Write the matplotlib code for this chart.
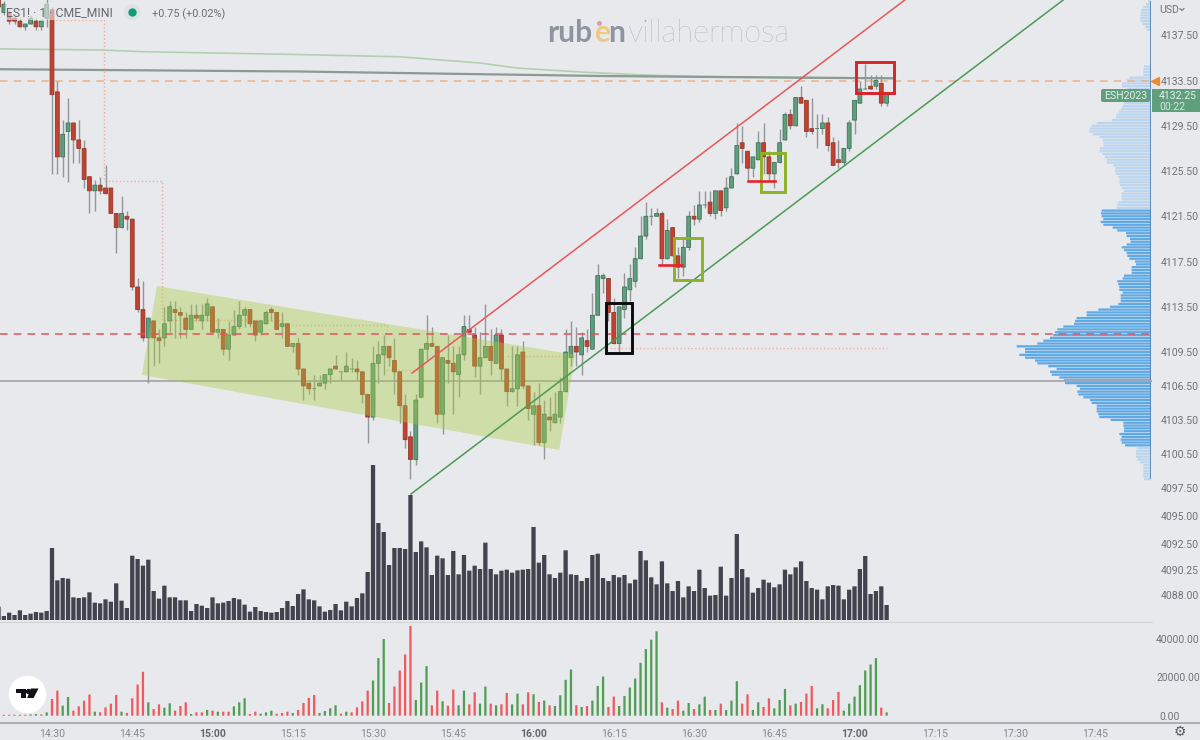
import matplotlib
matplotlib.use('Agg')
import matplotlib.pyplot as plt
from matplotlib.lines import Line2D
from matplotlib.patches import Polygon, Rectangle, FancyBboxPatch
from matplotlib.transforms import ScaledTranslation

plt.rcParams['font.family'] = ['Roboto', 'DejaVu Sans']

# one candle per minute, bar 0 is 14:30, first bar is -10
first_bar = -10
candle_open = [
    4140.75, 4139.5, 4139.5, 4139, 4138.75, 4138.25, 4138.5, 4138.75, 4138.25, 4139,
    4139.75, 4132.5, 4126.75, 4129, 4129.75, 4128.25, 4127.5, 4125, 4123.75, 4124.25,
    4124, 4124, 4121.75, 4120.5, 4121.5, 4121.25, 4115.25, 4113.25, 4110.75, 4112.25,
    4110.75, 4110.75, 4112.25, 4113.25, 4113, 4112.5, 4111.5, 4112.75, 4112.25, 4112.75,
    4113.5, 4111.25, 4111.5, 4109.75, 4111, 4111.75, 4112.75, 4113.25, 4112.25, 4111.25,
    4112, 4113.25, 4113, 4111.75, 4112, 4110, 4110.25, 4108, 4106.75, 4106.25,
    4106.5, 4106.75, 4107.5, 4108.25, 4107.75, 4107.75, 4108, 4108, 4107.75, 4105.75,
    4103.75, 4108.5, 4109.25, 4110, 4108.75, 4107.75, 4104.75, 4102, 4100, 4105.5,
    4109.75, 4110.25, 4110, 4104, 4108.75, 4108.5, 4107.5, 4109.25, 4111.5, 4111,
    4108.25, 4109, 4110, 4108.5, 4111, 4108, 4106, 4106.25, 4109.5, 4106.5,
    4104, 4104.75, 4101.5, 4103.75, 4103.25, 4103.75, 4106, 4109, 4110, 4109.25,
    4110.5, 4109.75, 4112.75, 4116, 4116, 4113, 4110.25, 4113.25, 4115, 4115.75,
    4117.75, 4119.75, 4121.5, 4121.5, 4121.75, 4117.75, 4120.5, 4118, 4117, 4118.75,
    4121.5, 4121.25, 4122.5, 4122.75, 4121.75, 4123.75, 4122.25, 4124, 4125.25, 4128,
    4127.25, 4125.75, 4126.5, 4128, 4126.75, 4125.25, 4126.25, 4128.25, 4130.5, 4129.5,
    4132, 4131.75, 4129.25, 4129.25, 4129.25, 4129.75, 4128, 4126.5, 4126.25, 4127.5,
    4130, 4131.5, 4132.75, 4133, 4133, 4133.25, 4131.5]
candle_high = [
    4141, 4140.5, 4139.75, 4139.25, 4139, 4138.5, 4139.25, 4139, 4138.75, 4140.75,
    4140, 4133.5, 4130, 4132, 4129.75, 4130, 4128.25, 4125, 4124.75, 4125,
    4126, 4124, 4121.75, 4123.25, 4122, 4121.25, 4116, 4115.75, 4112.5, 4112.25,
    4111.5, 4113.5, 4114, 4114, 4113.5, 4113, 4113.75, 4113.75, 4113.75, 4114.25,
    4113.5, 4112.5, 4111.5, 4112.25, 4113.25, 4114, 4113.5, 4113.25, 4112.25, 4112.25,
    4113.25, 4113.5, 4113, 4113, 4112, 4110.25, 4110.75, 4108, 4106.75, 4107.5,
    4107.5, 4107.5, 4108, 4109.25, 4107.75, 4109.5, 4109, 4108.75, 4107.75, 4105.75,
    4110, 4110.5, 4111, 4110, 4110.75, 4107.75, 4105.75, 4102.5, 4105.75, 4109.75,
    4112.75, 4111.75, 4110, 4109, 4111, 4110, 4110, 4112.75, 4112.75, 4111.75,
    4111.25, 4113.75, 4111.5, 4111.75, 4111.5, 4108, 4110, 4110, 4110.5, 4106.5,
    4106, 4106.75, 4105.25, 4105.5, 4106, 4107.25, 4111.5, 4112.25, 4111.75, 4111.25,
    4111.5, 4114.75, 4117.25, 4116.5, 4116, 4114.25, 4113.5, 4116.5, 4117.25, 4118.75,
    4121.5, 4122.75, 4122.25, 4122.25, 4122, 4121.25, 4120.5, 4118.75, 4119.5, 4122,
    4122.5, 4123.75, 4123.75, 4123.75, 4123.75, 4123.75, 4125, 4125.75, 4129.75, 4129.5,
    4127.25, 4126.75, 4129, 4129.75, 4127.25, 4126.25, 4129.25, 4130.75, 4131, 4132,
    4133, 4131.75, 4132, 4130.5, 4130.5, 4130.25, 4128.5, 4128.25, 4127.5, 4130,
    4131.75, 4133.5, 4135, 4134, 4134, 4134, 4132.25]
candle_low = [
    4139.75, 4139.25, 4138.5, 4138.5, 4138.25, 4138, 4138.5, 4138, 4138, 4138.25,
    4125.25, 4125.25, 4125, 4124.5, 4126.25, 4126.25, 4124, 4121.75, 4122, 4123.5,
    4123.5, 4121.75, 4118.25, 4120.5, 4120.25, 4115, 4113, 4110.5, 4106.75, 4108.25,
    4108.5, 4110, 4111.25, 4110.75, 4110.75, 4110.75, 4111.5, 4112.25, 4111.5, 4112.25,
    4111.25, 4110.75, 4109.25, 4108.75, 4111, 4111.5, 4111.75, 4111.75, 4110.5, 4111,
    4112, 4112.25, 4111.5, 4110.75, 4110, 4109.5, 4107.5, 4105.25, 4105.75, 4105.25,
    4106.5, 4106.25, 4106.75, 4108, 4107, 4107.75, 4107.75, 4107, 4105, 4101.5,
    4103.5, 4106.75, 4107.5, 4108.25, 4105.75, 4103.25, 4101, 4098.25, 4099.5, 4105.5,
    4108.75, 4110, 4103.25, 4102.25, 4106.75, 4104, 4105.5, 4108.75, 4111.25, 4107.25,
    4105.75, 4109, 4107.5, 4108.5, 4107, 4104.75, 4106, 4104.75, 4106.25, 4103.5,
    4101.25, 4101.25, 4100, 4102.5, 4103.25, 4103.25, 4106, 4108.25, 4108.25, 4107.5,
    4109.5, 4109.75, 4112.75, 4114.75, 4112.25, 4110.25, 4109.5, 4112.5, 4114, 4115.25,
    4117.75, 4119.5, 4120.75, 4121.5, 4117.25, 4117.75, 4118, 4116, 4116.25, 4118.5,
    4120.75, 4121, 4122.25, 4121.5, 4121.25, 4121.5, 4122, 4124, 4125.25, 4126.25,
    4124.75, 4125, 4126.5, 4125.25, 4124.75, 4124, 4126.25, 4128.25, 4129.25, 4129.5,
    4131.5, 4128.5, 4128.75, 4127.5, 4128.75, 4127.25, 4126, 4125.75, 4126, 4127.25,
    4128.75, 4131.5, 4132.75, 4132.75, 4132.75, 4131.25, 4131.25]
candle_close = [
    4140, 4140.25, 4138.75, 4138.75, 4138.25, 4138.5, 4139, 4138.25, 4138.75, 4140.25,
    4132.25, 4126.75, 4128.75, 4129.75, 4128.25, 4127.5, 4124.75, 4123.75, 4124.25, 4123.75,
    4123.5, 4121.75, 4120.5, 4121.75, 4121.25, 4115.25, 4113.25, 4110.75, 4112.5, 4110.75,
    4110.5, 4112, 4113.5, 4113, 4112.75, 4111.5, 4112.75, 4112.5, 4112.75, 4113.75,
    4111.25, 4111.5, 4109.75, 4111, 4111.75, 4112.75, 4113.25, 4112, 4111, 4112.25,
    4113, 4113, 4111.5, 4112, 4110, 4110.25, 4108, 4106.5, 4106.25, 4106.25,
    4106.75, 4107.5, 4108, 4108, 4107.75, 4108.25, 4108, 4107.75, 4105.75, 4103.75,
    4108.5, 4109.25, 4110, 4109, 4107.75, 4104.75, 4101.75, 4100, 4105.25, 4109.75,
    4110.25, 4110, 4104, 4109, 4108.5, 4107.75, 4109.25, 4111.75, 4111.25, 4108.25,
    4109, 4110, 4108.75, 4111, 4108, 4106, 4106.25, 4109.25, 4106.5, 4104.5,
    4104.75, 4101.5, 4104, 4103.5, 4104, 4106, 4109.5, 4110, 4109.5, 4110.75,
    4110, 4112.75, 4116.25, 4116.25, 4113, 4110.25, 4113.5, 4115.25, 4116, 4117.75,
    4119.75, 4121.5, 4121.5, 4121.75, 4117.75, 4120.25, 4118, 4117, 4118.75, 4121.5,
    4121.25, 4122.5, 4122.5, 4121.75, 4123.75, 4122, 4124, 4125, 4127.75, 4127.5,
    4125.75, 4126.75, 4128, 4126.75, 4125.25, 4126.25, 4128, 4130.5, 4129.5, 4132,
    4131.5, 4129, 4129, 4129.25, 4129.75, 4127.75, 4126, 4126.25, 4127.5, 4129.75,
    4131.75, 4132.75, 4132.75, 4132.75, 4133.5, 4131.5, 4132.25]

# volume bars (scale is not shown on the chart)
volume = [
    40, 12, 22, 15, 29, 15, 19, 24, 22, 27,
    216, 119, 126, 124, 68, 66, 68, 83, 52, 50,
    62, 55, 110, 58, 36, 193, 183, 163, 181, 87,
    64, 103, 68, 68, 59, 59, 27, 48, 43, 36,
    68, 50, 52, 57, 66, 62, 46, 25, 39, 27,
    24, 22, 24, 36, 57, 42, 78, 92, 62, 59,
    41, 25, 30, 48, 29, 55, 41, 66, 80, 144,
    465, 291, 264, 165, 216, 216, 213, 375, 204, 236,
    218, 135, 193, 185, 135, 207, 137, 195, 148, 163,
    153, 232, 153, 137, 148, 151, 142, 149, 151, 153,
    279, 172, 195, 137, 126, 142, 209, 137, 135, 117,
    126, 195, 199, 126, 117, 135, 128, 135, 110, 121,
    207, 179, 128, 107, 176, 110, 87, 117, 68, 101,
    87, 151, 96, 73, 75, 160, 73, 126, 258, 153,
    128, 82, 96, 121, 112, 98, 107, 151, 137, 158,
    176, 117, 96, 91, 62, 101, 105, 103, 62, 91,
    101, 153, 192, 78, 87, 101, 45]

# lower pane, negative is red; read in units of 174 contracts
delta_unit = 174
delta = [
    -3, -3, -3, -3, -3, -3, 4, 5, -4, 10,
    -50, -75, 30, 56, -15, -28, -45, -63, 12, -10,
    -25, -36, -62, 12, -8, -52, -93, -131, 40, -20,
    -34, 24, 37, -15, -29, -40, 5, -10, -10, 17,
    -15, 12, -12, -12, 28, 40, 52, -5, -12, 6,
    10, 15, -6, -8, -12, 8, -17, -38, -53, -62,
    8, 14, 22, 31, -6, 12, -10, -25, -43, -75,
    105, 172, 229, -38, -87, -135, -183, -268, 47, 99,
    148, -31, -75, 43, -30, -78, 31, 75, -34, -70,
    36, 87, -36, 31, -34, -68, 34, 66, -34, -70,
    64, -41, 45, -31, 29, 61, 107, 138, -31, 26,
    -29, 45, 89, 117, -26, -57, 29, 59, 84, 111,
    158, 199, 227, 252, -40, 24, -20, -45, 15, 38,
    -20, 34, 57, -17, 17, -36, 17, 45, 103, -36,
    -64, 17, 40, -26, -52, 22, 47, 80, -31, 36,
    -41, -66, -89, 22, 34, -22, -47, -71, 15, 36,
    57, 91, 135, 153, 172, -24, 10]

# volume profile, one row per 0.25 from the top price downwards
profile_top = 4140.5
profile = [
    8, 15, 23, 28, 30, 31, 33, 31, 25, 17, 13,
    0, 0, 0, 0, 0, 0, 0, 0, 0, 0, 0, 0,
    21, 23, 23, 23, 65, 73, 87, 87, 73, 70, 75, 80, 80, 82, 85, 90, 95, 104, 105, 118,
    163, 178, 183, 185, 175, 155, 145, 143, 143, 153, 155, 145, 138, 133, 133, 113,
    108, 108, 105, 98, 95, 95, 93, 88, 81, 88, 88, 88, 98, 101, 103,
    148, 150, 148, 143, 151, 143, 115, 101, 75, 73, 63, 61, 73, 88, 81, 73, 71, 65,
    48, 45, 58, 58, 58, 81, 85, 101, 98, 95, 95, 85, 91, 91, 91, 98, 123, 158, 193,
    193, 223, 228, 231, 263, 281, 288, 293, 303, 323, 341, 403, 378, 378, 395, 378,
    348, 341, 308, 283, 303, 298, 275, 261, 258, 223, 213, 221, 218, 203, 183, 178,
    163, 163, 163, 158, 155, 121, 83, 83, 81, 81, 95, 88, 91, 88, 78,
    43, 45, 45, 45, 41, 33, 23, 23, 23, 23, 23, 21]
value_area = (74, 157)

price_ticks = [4137.5, 4133.5, 4129.5, 4125.5, 4121.5, 4117.5, 4113.5, 4109.5, 4106.5,
               4103.5, 4100.5, 4097.5, 4095, 4092.5, 4090.25, 4088]
delta_ticks = [0, 20000, 40000]
time_ticks = [0, 15, 30, 45, 60, 75, 90, 105, 120, 135, 150, 165, 180, 195]
time_labels = ['14:30', '14:45', '15:00', '15:15', '15:30', '15:45', '16:00', '16:15',
               '16:30', '16:45', '17:00', '17:15', '17:30', '17:45']
bold_times = ['15:00', '16:00', '17:00']

# drawings, (bar, price)
channel_zone = [(19.6, 4115.33), (16.8, 4107.47), (94.8, 4100.84), (97.8, 4109.25)]
red_trend = [(67.3, 4107.64), (159.4, 4140.62)]
green_trend = [(67.1, 4096.95), (189, 4140.62)]
black_box = (103.5, 108.4, 4109.38, 4113.86)
green_boxes = [(116.3, 121.4, 4115.87, 4119.6), (132.6, 137, 4123.67, 4127.07)]
red_box = (150.3, 157.3, 4132.42, 4135.1)
red_marks = [(113.5, 117.7, 4117.16), (130, 135.1, 4124.6)]
step_bars = [0, 9.63, 9.63, 20.56, 20.56, 43.2, 43.2, 62.6, 62.6]
step_prices = [4138.85, 4138.85, 4124.62, 4124.62, 4112.33, 4112.33, 4111.89, 4111.89, 4110.83]
step_pieces = [(62.6, 68.8, 4107.91), (85, 95.5, 4109.15), (104.3, 156, 4109.85)]
avg_bars = [-10, 46, 103, 140, 157]
avg_prices = [4134.5, 4134.3, 4133.9, 4133.75, 4133.7]
green_avg_bars = [-10, 9, 17, 46, 65, 80, 87, 99, 110, 121, 157]
green_avg_prices = [4136.3, 4136.2, 4136.05, 4135.8, 4135.6, 4135.05, 4134.6, 4134.25, 4134.0, 4133.85, 4133.7]
last_price = 4132.25
poc_high = 4133.5
red_level = 4111.09
gray_level = 4106.94

bg = '#e8e9ec'
red = '#c4402f'
green = '#5f9f7c'
label_col = '#6f7277'

fig = plt.figure(figsize=(12, 7.4), dpi=100, facecolor=bg)


def px_box(left, top, right, bottom):
    return [left / 1200, 1 - bottom / 740, (right - left) / 1200, (bottom - top) / 740]


def fx(x):
    return x / 1200


def fy(y):
    return 1 - y / 740


def no_snap(bars_drawn):
    for p in bars_drawn:
        p.set_snap(False)


ax_vol = fig.add_axes(px_box(0, 0, 1152, 621), zorder=1)
ax_vp = fig.add_axes(px_box(0, 0, 1151, 621), zorder=2)
ax = fig.add_axes(px_box(0, 0, 1152, 621), zorder=3)
ax_low = fig.add_axes(px_box(0, 623, 1152, 722), zorder=3)

bars = [first_bar + n for n in range(len(candle_open))]
xlim = (-9.72, 205.6)
ylim = (4085.72, 4140.62)

# volume
no_snap(ax_vol.bar(bars, volume, width=0.8, color='#41434e'))
ax_vol.set_xlim(xlim)
ax_vol.set_ylim(-3, 1860)
ax_vol.axis('off')

# volume profile
rows = [profile_top - 0.25 * k for k in range(len(profile))]
row_cols = ['#5ea9e6' if value_area[0] <= k <= value_area[1] else '#bcd6ef' for k in range(len(profile))]
no_snap(ax_vp.barh(rows, profile, height=0.2, color=row_cols))
ax_vp.vlines(0, rows[-1], rows[0], color='#4d7fae', lw=1.2)
ax_vp.set_xlim(3453, 0)
ax_vp.set_ylim(ylim)
ax_vp.axis('off')

# candles
ax.patch.set_alpha(0)
body_low = [min(o, c) for o, c in zip(candle_open, candle_close)]
body_h = [abs(o - c) for o, c in zip(candle_open, candle_close)]
body_cols = [green if c >= o else red for o, c in zip(candle_open, candle_close)]
edge_cols = ['#41705a' if c >= o else '#8f3a2e' for o, c in zip(candle_open, candle_close)]
ax.vlines(bars, candle_low, candle_high, color='#94979a', lw=1.0, zorder=3)
no_snap(ax.bar(bars, body_h, bottom=body_low, width=0.72, color=body_cols, edgecolor=edge_cols, lw=0.6, zorder=4))

# levels and averages
ax.plot(green_avg_bars, green_avg_prices, color='#b2cfb0', lw=1.2, zorder=2)
ax.plot(avg_bars, avg_prices, color='#8b9a92', lw=1.6, zorder=2)
ax.axhline(poc_high, color='#efb088', lw=1.1, ls=(0, (5, 4)), zorder=2)
ax.axhline(red_level, color='#e2535c', lw=1.1, ls=(0, (5, 4)), zorder=6)
ax.axhline(gray_level, color='#a6a7ac', lw=1.3, zorder=2)
ax.plot(step_bars, step_prices, color='#efb09a', lw=1.0, ls=':', zorder=2)
for x0, x1, p in step_pieces:
    ax.plot([x0, x1], [p, p], color='#efb09a', lw=1.0, ls=':', zorder=2)

# drawings
ax.add_patch(Polygon(channel_zone, closed=True, facecolor='#aacb44', alpha=0.4, edgecolor='none', zorder=5))
ax.plot(*zip(*red_trend), color='#e8565a', lw=1.1, zorder=6)
ax.plot(*zip(*green_trend), color='#4b9a55', lw=1.1, zorder=6)


def add_box(box, col):
    ax.add_patch(Rectangle((box[0], box[2]), box[1] - box[0], box[3] - box[2], fill=False,
                           edgecolor=col, lw=2.1, zorder=7, joinstyle='miter'))


add_box(black_box, '#0c0c0e')
for b in green_boxes:
    add_box(b, '#8fb125')
add_box(red_box, '#d8232b')
for x0, x1, p in red_marks:
    ax.plot([x0, x1], [p, p], color='#e5252c', lw=1.9, zorder=7)

ax.set_xlim(xlim)
ax.set_ylim(ylim)
ax.yaxis.tick_right()
ax.set_yticks(price_ticks)
ax.set_yticklabels(['%.2f' % p for p in price_ticks], color=label_col, fontsize=7.6)
ax.tick_params(axis='y', length=0, pad=6)
ax.set_xticks([])
for s in ax.spines.values():
    s.set_visible(False)

# lower pane
delta_vals = [abs(d) * delta_unit for d in delta]
delta_cols = ['#4f9e54' if d > 0 else '#ef5a5f' for d in delta]
ax_low.patch.set_alpha(0)
no_snap(ax_low.bar(bars, delta_vals, width=0.42, color=delta_cols))
ax_low.set_xlim(xlim)
ax_low.set_ylim(-3273, 48156)
ax_low.yaxis.tick_right()
ax_low.set_yticks(delta_ticks)
ax_low.set_yticklabels(['%.2f' % d for d in delta_ticks], color=label_col, fontsize=7.4)
ax_low.set_xticks(time_ticks)
ax_low.set_xticklabels(time_labels, fontsize=7.6, color='#85888d')
for t in ax_low.get_xticklabels():
    if t.get_text() in bold_times:
        t.set_fontweight('bold')
        t.set_color('#63666b')
ax_low.tick_params(axis='both', length=0)
ax_low.tick_params(axis='y', pad=3)
ax_low.tick_params(axis='x', pad=5)
zero_label = ax_low.get_yticklabels()[0]
zero_label.set_transform(zero_label.get_transform() + ScaledTranslation(3 / 100, 0, fig.dpi_scale_trans))
for s in ax_low.spines.values():
    s.set_visible(False)

# chrome drawn in figure coordinates
fig.add_artist(Line2D([0, 1], [fy(722.5), fy(722.5)], color='#abadb2', lw=1.4, zorder=4))
fig.add_artist(Line2D([0, fx(1152)], [fy(621.5), fy(621.5)], color='#d4d5d9', lw=0.8, zorder=4))

# header strip fades the candles behind it
fig.add_artist(Rectangle((fx(5), fy(20)), fx(160), 17 / 740, transform=fig.transFigure,
                         facecolor=bg, alpha=0.6, edgecolor='none', zorder=4))
fig.text(fx(6), fy(13), 'ES1! · 1 · CME_MINI', fontsize=8.8, color='#63666c', va='center', zorder=6)
fig.add_artist(Line2D([fx(131.5)], [fy(12)], marker='o', ms=11, color='#dde3e4', lw=0, zorder=5))
fig.add_artist(Line2D([fx(131.5)], [fy(12)], marker='o', ms=5, color='#0e9e7c', lw=0, zorder=6))
fig.text(fx(152), fy(14.5), '+0.75 (+0.02%)', fontsize=7.8, color='#6a6d72', va='center', zorder=6)

# watermark
wm_bold = '#8f95a0'
fig.text(fx(547), fy(33), 'rub', fontsize=21.5, fontweight='bold', family='Lato', color=wm_bold, va='center', zorder=6)
fig.text(fx(594), fy(33), 'e', fontsize=21.5, fontweight='bold', family='Lato', color='#f0ca85', va='center', zorder=6)
fig.text(fx(608.5), fy(33), 'n', fontsize=21.5, fontweight='bold', family='Lato', color=wm_bold, va='center', zorder=6)
fig.text(fx(627), fy(33), 'villahermosa', fontsize=22.3, fontweight='light', family='Lato', color='#9a9fa8', va='center', zorder=6)
fig.add_artist(Line2D([fx(599)], [fy(22.5)], marker='o', ms=2.6, color='#e79ab0', lw=0, zorder=7))

# price tag
tag_col = '#5f9f7c'
fig.add_artist(FancyBboxPatch((fx(1101), fy(102)), 49 / 1200, 13 / 740, boxstyle='round,pad=0,rounding_size=0.002',
                              transform=fig.transFigure, facecolor=tag_col, edgecolor='none', zorder=4))
fig.add_artist(Rectangle((fx(1152), fy(112)), 48 / 1200, 23 / 740, transform=fig.transFigure,
                         facecolor=tag_col, edgecolor='none', zorder=4))
fig.text(fx(1104), fy(96), 'ESH2023', fontsize=7.6, color='#e3efe8', va='center', zorder=6)
fig.text(fx(1159), fy(96), '%.2f' % last_price, fontsize=7.6, color='#e3efe8', va='center', zorder=6)
fig.text(fx(1159), fy(107), '00:22', fontsize=7.6, color='#d6e6dc', va='center', zorder=6)
fig.add_artist(Line2D([fx(1155)], [fy(80.5)], marker='<', ms=5.5, color='#ef8a2e', lw=0, zorder=6))

# USD and chevron
fig.text(fx(1159), fy(10), 'USD', fontsize=7.6, color=label_col, va='center', zorder=6)
fig.add_artist(Line2D([fx(1180), fx(1182), fx(1184)], [fy(8.5), fy(10.5), fy(8.5)], color=label_col, lw=0.8, zorder=6))

# gear
fig.text(fx(1180), fy(732), '\u2699', fontsize=10, family='DejaVu Sans', color='#55585e', ha='center', va='center', zorder=6)

# logo
fig.add_artist(Line2D([fx(27)], [fy(694)], marker='o', ms=26, color='white', lw=0, zorder=5))
logo_t = [(15.7, 688.5), (25.8, 688.5), (25.8, 698), (20.8, 698), (20.8, 692.6), (15.7, 692.6)]
logo_v = [(30.8, 688.5), (38.5, 688.5), (33.6, 698), (27.2, 698)]
for shape in (logo_t, logo_v):
    fig.add_artist(Polygon([(fx(a), fy(b)) for a, b in shape], closed=True, transform=fig.transFigure,
                           facecolor='#101114', edgecolor='none', zorder=6))
fig.add_artist(Line2D([fx(28.3)], [fy(690.5)], marker='o', ms=2.8, color='#101114', lw=0, zorder=6))

fig.savefig('out.png', dpi=100, facecolor=bg)
